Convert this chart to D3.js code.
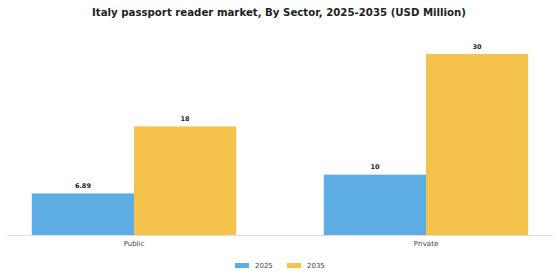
<!DOCTYPE html>
<html><head><meta charset="utf-8">
<script src="https://cdn.jsdelivr.net/npm/d3@7"></script>
<style>body{margin:0;background:#fff}svg{display:block}</style>
</head><body>
<svg id="c" width="560" height="280"></svg>
<script>
const title = "Italy passport reader market, By Sector, 2025-2035 (USD Million)";
const categories = ["Public", "Private"];
const years = ["2025", "2035"];
const values2025 = [6.89, 10];
const values2035 = [18, 30];
const labels2025 = ["6.89", "10"];
const labels2035 = ["18", "30"];
const colors = ["#5DADE2", "#F5C24C"];

const svg = d3.select("#c");
const font = "DejaVu Sans, sans-serif";

const x0 = d3.scaleBand().domain(categories).range([-12, 572]).paddingInner(0.3).paddingOuter(0.15);
const x1 = d3.scaleBand().domain(years).range([0, x0.bandwidth()]);
const y = d3.scaleLinear().domain([0, 30]).range([235, 54]);

svg.append("text").attr("x", 279).attr("y", 15.5).attr("text-anchor", "middle")
  .attr("font-family", font).attr("font-weight", "bold").attr("font-size", 10.2).attr("fill", "#222").text(title);

const series = [values2025, values2035];
const lbls = [labels2025, labels2035];
years.forEach((yr, si) => {
  const g = svg.append("g");
  categories.forEach((c, ci) => {
    const v = series[si][ci];
    g.append("rect").attr("x", x0(c) + x1(yr)).attr("y", y(v))
      .attr("width", x1.bandwidth()).attr("height", y(0) - y(v)).attr("fill", colors[si]);
    g.append("text").attr("x", x0(c) + x1(yr) + x1.bandwidth() / 2).attr("y", y(v) - 5.5)
      .attr("text-anchor", "middle").attr("font-family", font).attr("font-weight", "bold")
      .attr("font-size", 6.5).attr("fill", "#222").text(lbls[si][ci]);
  });
});

const xAxis = svg.append("g").attr("transform", "translate(0,235)")
  .call(d3.axisBottom(x0).tickSize(0).tickPadding(6));
xAxis.select(".domain").remove();
xAxis.selectAll("text").attr("font-family", font).attr("font-size", 7).attr("fill", "#444");
svg.append("line").attr("x1", 7).attr("x2", 553).attr("y1", 235.5).attr("y2", 235.5)
  .attr("stroke", "#ddd").attr("stroke-width", 1);

const legend = svg.append("g");
const lx = [235, 287];
years.forEach((yr, i) => {
  legend.append("rect").attr("x", lx[i]).attr("y", 263).attr("width", 14).attr("height", 5).attr("fill", colors[i]);
  legend.append("text").attr("x", lx[i] + 20).attr("y", 268).attr("font-family", font)
    .attr("font-size", 7).attr("fill", "#444").text(yr);
});
</script>
</body></html>
